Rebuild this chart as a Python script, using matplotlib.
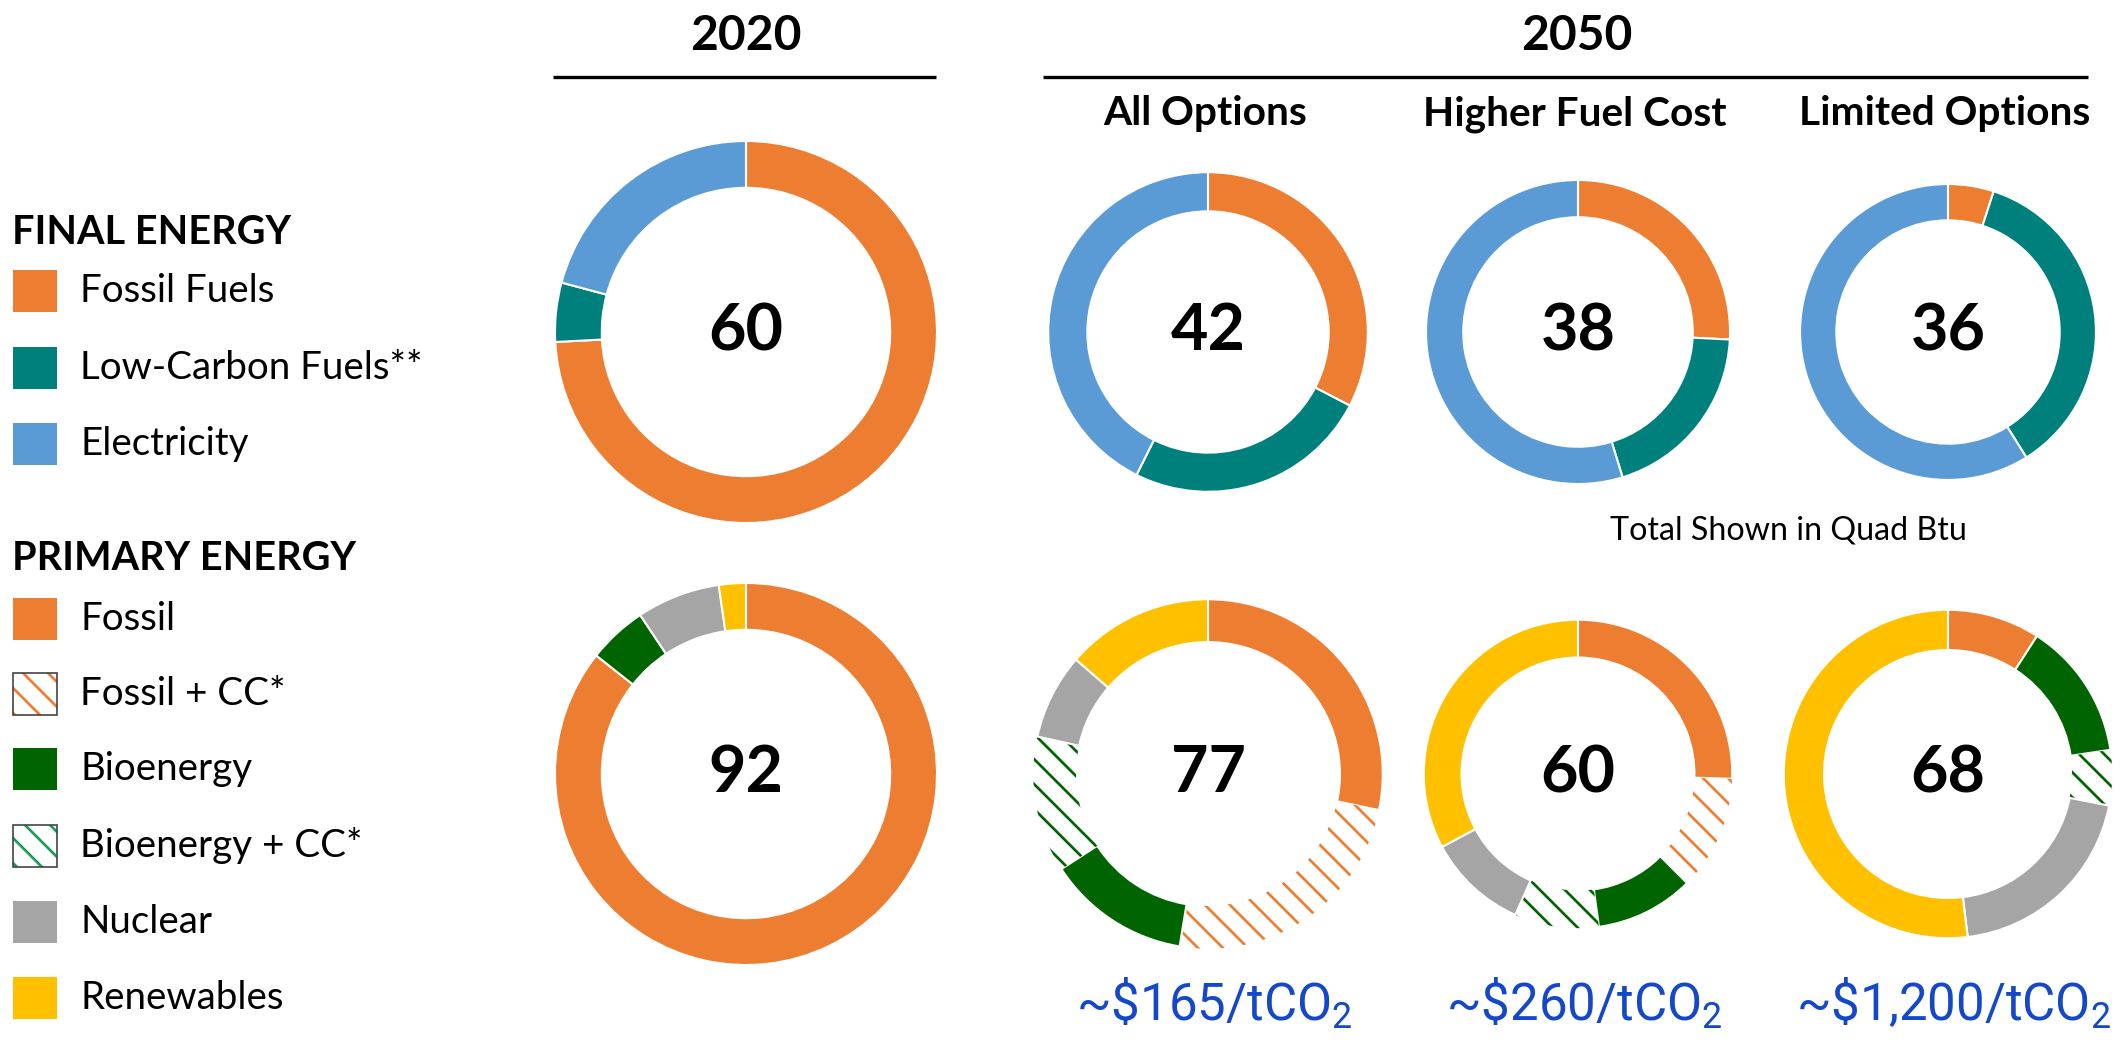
import numpy as np
import matplotlib
matplotlib.use('Agg')
import matplotlib.pyplot as plt
from matplotlib.patches import Rectangle

# --------- DATOS (Quad Btu) ---------
escenarios = ['2020', 'All Options', 'Higher Fuel Cost', 'Limited Options']

final_etiquetas = ['Fossil Fuels', 'Low-Carbon Fuels**', 'Electricity']
final_total = [60, 42, 38, 36]
final_fossil = [44.5, 13.7, 9.8, 1.8]
final_low_carbon = [3.0, 10.4, 7.4, 13.0]
final_electricity = [12.5, 17.9, 20.8, 21.2]

primary_etiquetas = ['Fossil', 'Fossil + CC*', 'Bioenergy', 'Bioenergy + CC*', 'Nuclear', 'Renewables']
primary_total = [92, 77, 60, 68]
primary_fossil = [78.8, 21.8, 15.3, 6.2]
primary_fossil_cc = [0.0, 18.7, 7.2, 0.0]
primary_bio = [4.6, 10.2, 6.2, 9.2]
primary_bio_cc = [0.0, 9.7, 5.3, 3.7]
primary_nuclear = [6.5, 6.1, 6.3, 13.6]
primary_renewables = [2.1, 10.5, 19.7, 35.3]

costo_carbono = [r'~\$165/tCO$_2$', r'~\$260/tCO$_2$', r'~\$1,200/tCO$_2$']

# --------- ESTILO ---------
naranja = '#ED7D31'
verde_azulado = '#00807C'
azul = '#5B9BD5'
verde = '#006400'
verde_leyenda = '#1E9E55'
gris = '#A5A5A5'
amarillo = '#FFC000'
azul_texto = '#1448C8'

plt.rcParams['font.family'] = ['Lato', 'DejaVu Sans']
plt.rcParams['hatch.linewidth'] = 1.3
plt.rcParams['mathtext.default'] = 'regular'

W, H, DPI = 2123, 1052, 150
fig = plt.figure(figsize=(W / DPI, H / DPI), dpi=DPI)
ax = fig.add_axes([0, 0, 1, 1])

# posiciones en pixeles (desde arriba)
centros_x = [746, 1208, 1578, 1948]
filas_y = [332, 774]
radio_max = 191
grosor = 0.245
rayado = '\\\\'


def dibujar_dona(valores, colores, rayados, cx, cy, radio, total):
    wedges, _ = ax.pie(valores, colors=colores, center=(cx, H - cy), radius=radio,
                       startangle=90, counterclock=False, normalize=True,
                       wedgeprops=dict(width=radio * grosor, edgecolor='white', linewidth=1.0))
    for w, es_rayado, c in zip(wedges, rayados, colores):
        if es_rayado:
            w.set_facecolor('white')
            w.set_edgecolor(c)
            w.set_linewidth(0)
            w.set_hatch(rayado)
    ax.text(cx, H - cy, str(total), ha='center', va='center', fontsize=31,
            fontweight='bold', color='black')


# fila final energy
for i in range(len(escenarios)):
    vals = [final_fossil[i], final_low_carbon[i], final_electricity[i]]
    r = radio_max * np.sqrt(final_total[i] / max(final_total))
    dibujar_dona(vals, [naranja, verde_azulado, azul], [False, False, False],
                 centros_x[i], filas_y[0], r, final_total[i])

# fila primary energy
for i in range(len(escenarios)):
    vals = [primary_fossil[i], primary_fossil_cc[i], primary_bio[i],
            primary_bio_cc[i], primary_nuclear[i], primary_renewables[i]]
    r = radio_max * np.sqrt(primary_total[i] / max(primary_total))
    dibujar_dona(vals, [naranja, naranja, verde, verde, gris, amarillo],
                 [False, True, False, True, False, False],
                 centros_x[i], filas_y[1], r, primary_total[i])

# encabezados
ax.text(746, H - 36, '2020', ha='center', va='center', fontsize=23, fontweight='bold')
ax.text(1577, H - 36, '2050', ha='center', va='center', fontsize=23, fontweight='bold')
ax.hlines(H - 77, 553, 936, color='black', linewidth=1.6)
ax.hlines(H - 77, 1043, 2088, color='black', linewidth=1.6)
for i, nombre in enumerate(escenarios[1:]):
    ax.text(centros_x[i + 1] - 3, H - 114, nombre, ha='center', va='center',
            fontsize=19.5, fontweight='bold')

ax.text(1788, H - 531, 'Total Shown in Quad Btu', ha='center', va='center', fontsize=15.5)

for i, etiqueta in enumerate(costo_carbono):
    ax.text(centros_x[i + 1] + 6, H - 1021, etiqueta, ha='center', va='baseline',
            fontsize=24.5, color=azul_texto, family='Roboto')


# leyendas (dibujadas a mano para controlar el espaciado)
def leyenda(titulo, y_titulo, etiquetas, colores, rayados, y_items):
    ax.text(12, H - y_titulo, titulo, ha='left', va='center', fontsize=19, fontweight='bold')
    for etiqueta, c, es_rayado, y in zip(etiquetas, colores, rayados, y_items):
        if es_rayado:
            ax.add_patch(Rectangle((13, H - y - 21), 44, 42, facecolor='white',
                                   edgecolor=c, linewidth=0, hatch=rayado))
            ax.add_patch(Rectangle((13, H - y - 21), 44, 42, fill=False,
                                   edgecolor='#444444', linewidth=0.8))
        else:
            ax.add_patch(Rectangle((13, H - y - 21), 44, 42, facecolor=c, edgecolor='none'))
        ax.text(80, H - y, etiqueta, ha='left', va='center', fontsize=18.5)


leyenda('FINAL ENERGY', 233, final_etiquetas, [naranja, verde_azulado, azul],
        [False, False, False], [291, 368, 444])
leyenda('PRIMARY ENERGY', 558, primary_etiquetas,
        [naranja, naranja, verde, verde_leyenda, gris, amarillo],
        [False, True, False, True, False, False],
        [619, 694, 769, 846, 922, 998])

ax.set_xlim(0, W)
ax.set_ylim(0, H)
ax.set_aspect('equal')
ax.axis('off')

fig.savefig('out.png', dpi=DPI)
